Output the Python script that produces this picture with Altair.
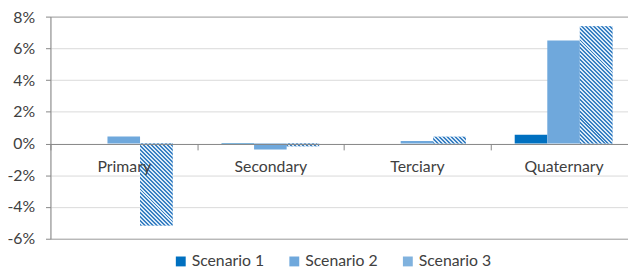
import altair as alt
import pandas as pd

categories = ["Primary", "Secondary", "Terciary", "Quaternary"]
scenarios = ["Scenario 1", "Scenario 2", "Scenario 3"]
scenario1 = [0.0, -0.0005, 0.0, 0.0055]
scenario2 = [0.0045, -0.0038, 0.0016, 0.065]
scenario3 = [-0.0517, -0.0017, 0.0042, 0.0739]
y_ticks = [-0.06, -0.04, -0.02, 0.0, 0.02, 0.04, 0.06, 0.08]

rows = []
for i, c in enumerate(categories):
    for s, vals in zip(scenarios, [scenario1, scenario2, scenario3]):
        rows.append({"category": c, "scenario": s, "value": vals[i]})
df = pd.DataFrame(rows)

FONT = "Lato"
TXT = "#404040"
AX = "#868686"

PLOT_W = 585
PLOT_H = 225
X_RANGE = 594  # full band range (right part cropped like the original)
Y_MIN, Y_MAX = -0.06, 0.08
BAR_W = X_RANGE / 4 / 4.5
PX_PER_UNIT = PLOT_H / (Y_MAX - Y_MIN)

x_enc = alt.X("category:N", sort=categories,
              scale=alt.Scale(range=[0, X_RANGE], paddingInner=0, paddingOuter=0),
              axis=alt.Axis(title=None, orient="bottom", offset=-96, domainColor=AX,
                            tickColor=AX, tickSize=6, tickBand="extent", labelPadding=9,
                            labelFont=FONT, labelFontSize=16, labelColor=TXT,
                            labelAngle=0, grid=False, zindex=2))
xo_enc = alt.XOffset("scenario:N", scale=alt.Scale(domain=scenarios, paddingInner=0, paddingOuter=0.75))
y_enc = alt.Y("value:Q",
              scale=alt.Scale(domain=[Y_MIN, Y_MAX], nice=False, zero=False),
              axis=alt.Axis(title=None, values=y_ticks, tickCount=20, domainColor=AX, tickColor=AX,
                            tickSize=5, labelPadding=11, labelFont=FONT, labelFontSize=16,
                            labelColor=TXT, labelOverlap=False, labelFlush=False,
                            labelOffset={"condition": {"test": "datum.value > 0.07", "value": 1},
                                         "value": 0},
                            labelExpr="(datum.value < -1e-9 ? '-' : '') + format(abs(datum.value) * 100, '.0f') + '%'",
                            gridColor={"condition": {"test": "abs(datum.value + 0.06) < 1e-6 || abs(datum.value - 0.08) < 1e-6",
                                                     "value": "#a6a6a6"},
                                       "value": "#d9d9d9"}))

base = alt.Chart(df).mark_bar().encode(
    x=x_enc,
    xOffset=xo_enc,
    y=y_enc,
    y2=alt.datum(0),
    color=alt.Color("scenario:N",
                    scale=alt.Scale(domain=scenarios, range=["#0070C0", "#6fa8dc", "#80b2de"]),
                    legend=alt.Legend(title=None, orient="none", legendX=124, legendY=240,
                                      direction="horizontal", symbolType="square",
                                      symbolSize=100, symbolStrokeWidth=0,
                                      labelFont=FONT, labelFontSize=16, labelColor=TXT,
                                      labelOffset=3, columnPadding=22, padding=0)),
)


def stripe_gradient(v):
    h = max(abs(v) * PX_PER_UNIT, 0.5)
    w = BAR_W
    k = (w + h) / (w * w + h * h)
    period = 4.0 / (w + h)
    stops = []
    t = 0.0
    dark, light = "#3a80c2", "#dcebf8"
    while t < 1.0:
        a = t
        b = min(t + period / 2, 1.0)
        c = min(t + period, 1.0)
        stops += [{"offset": a, "color": dark}, {"offset": b, "color": dark},
                  {"offset": b, "color": light}, {"offset": c, "color": light}]
        t += period
    return {"gradient": "linear", "x1": 0, "y1": 1, "x2": k * w, "y2": 1 - k * h,
            "stops": stops}


overlays = []
for i, c in enumerate(categories):
    overlays.append(
        alt.Chart(df).transform_filter(
            (alt.datum.category == c) & (alt.datum.scenario == "Scenario 3")
        ).mark_bar().encode(
            x=alt.X("category:N", sort=categories),
            xOffset=alt.XOffset("scenario:N"),
            y=alt.Y("value:Q"),
            y2=alt.datum(0),
            color=alt.value(stripe_gradient(scenario3[i])),
        )
    )

chart = alt.layer(base, *overlays).properties(
    width=PLOT_W, height=PLOT_H,
    padding={"left": 43, "top": 7, "right": 0, "bottom": 34},
    autosize=alt.AutoSizeParams(type="none"),
).configure_view(stroke=None).configure(background="white").configure_axis(
    labelOverlap=False
)

chart.save("out.html", embed_options={"renderer": "svg", "actions": False})
